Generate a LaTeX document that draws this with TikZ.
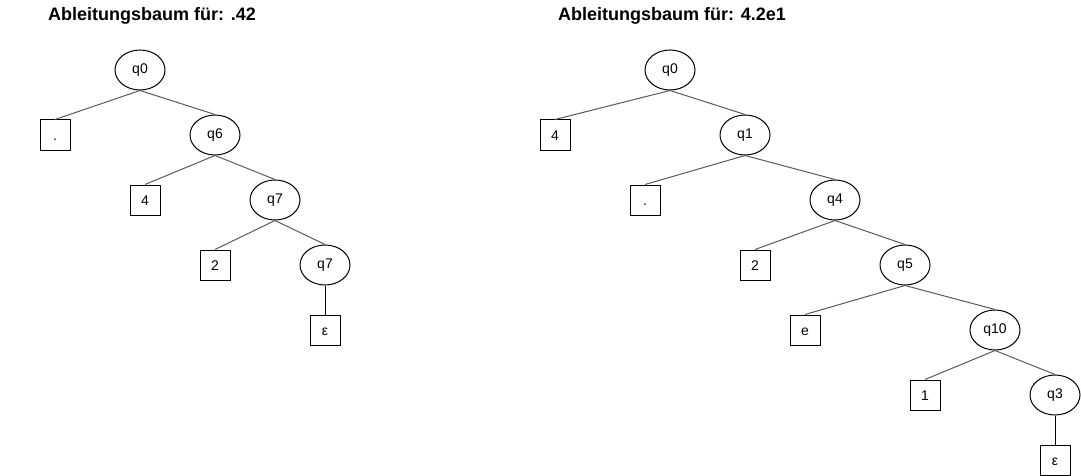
\documentclass[tikz,border=0pt]{standalone}
\usepackage{fontspec}
\setmainfont{Liberation Sans}
\usetikzlibrary{shapes.geometric}
\begin{document}
\begin{tikzpicture}[x=1pt,y=-1pt,
  state/.style={ellipse,draw=black,line width=1pt,minimum width=50pt,minimum height=40pt,inner sep=0pt,font=\fontsize{14}{16}\selectfont},
  leaf/.style={rectangle,draw=black,line width=1pt,minimum width=30pt,minimum height=30pt,inner sep=0pt,text height=10pt,text depth=0pt,font=\fontsize{14}{16}\selectfont},
  edge/.style={draw=black!65,line width=1pt},
  epsedge/.style={draw=black,line width=1pt},
  title/.style={anchor=west,font=\fontsize{18}{20}\selectfont\bfseries,inner sep=0pt}]
\useasboundingbox (0,0) rectangle (1081,476);
% left tree
\node[title] (t1) at (48,16) {Ableitungsbaum für: .42};
\node[state] (a0) at (140,70) {q0};
\node[leaf] (adot) at (55,135) {.};
\node[state] (a6) at (215,135) {q6};
\node[leaf] (a4) at (145,200) {4};
\node[state] (a7) at (275,200) {q7};
\node[leaf] (a2) at (215,265) {2};
\node[state] (a7b) at (325,265) {q7};
\node[leaf] (aeps) at (325,330) {ε};
\draw[edge] (a0.south) -- (adot.north);
\draw[edge] (a0.south) -- (a6.north);
\draw[edge] (a6.south) -- (a4.north);
\draw[edge] (a6.south) -- (a7.north);
\draw[edge] (a7.south) -- (a2.north);
\draw[edge] (a7.south) -- (a7b.north);
\draw[epsedge] (a7b.south) -- (aeps.north);
% right tree
\node[title] (t2) at (558,16) {Ableitungsbaum für: 4.2e1};
\node[state] (b0) at (670,70) {q0};
\node[leaf] (b4) at (555,135) {4};
\node[state] (b1) at (745,135) {q1};
\node[leaf] (bdot) at (645,200) {.};
\node[state] (b4s) at (835,200) {q4};
\node[leaf] (b2) at (755,265) {2};
\node[state] (b5) at (905,265) {q5};
\node[leaf] (be) at (805,330) {e};
\node[state] (b10) at (995,330) {q10};
\node[leaf] (b1l) at (925,395) {1};
\node[state] (b3) at (1055,395) {q3};
\node[leaf] (beps) at (1055,460) {ε};
\draw[edge] (b0.south) -- (b4.north);
\draw[edge] (b0.south) -- (b1.north);
\draw[edge] (b1.south) -- (bdot.north);
\draw[edge] (b1.south) -- (b4s.north);
\draw[edge] (b4s.south) -- (b2.north);
\draw[edge] (b4s.south) -- (b5.north);
\draw[edge] (b5.south) -- (be.north);
\draw[edge] (b5.south) -- (b10.north);
\draw[edge] (b10.south) -- (b1l.north);
\draw[edge] (b10.south) -- (b3.north);
\draw[epsedge] (b3.south) -- (beps.north);
\end{tikzpicture}
\end{document}
